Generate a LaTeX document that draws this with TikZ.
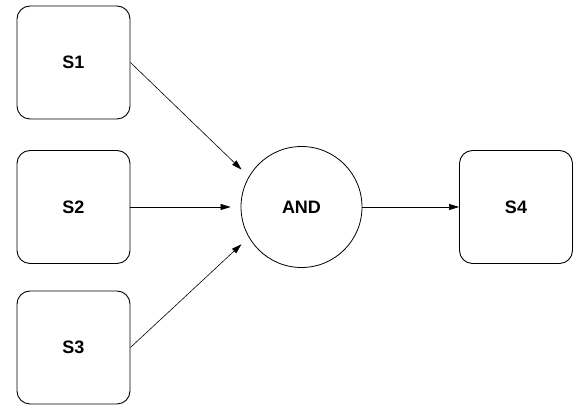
\documentclass[tikz,border=0pt]{standalone}
\usepackage{fontspec}
\setmainfont{Liberation Sans}
\usetikzlibrary{arrows.meta}
\begin{document}
\begin{tikzpicture}[x=1pt,y=-1pt,
  statebox/.style={draw, line width=0.9pt, rounded corners=13pt, minimum width=113pt, minimum height=113pt, inner sep=0pt, font=\fontsize{18}{21}\selectfont\bfseries},
  gate/.style={draw, line width=0.8pt, circle, minimum size=121pt, inner sep=0pt, font=\fontsize{18}{21}\selectfont\bfseries},
  conn/.style={line width=0.6pt, -{Triangle[length=10pt,width=6pt]}}]
\useasboundingbox (0,0) rectangle (582,411);
\node[statebox] (s1) at (73.5,62.5) {S1};
\node[statebox] (s2) at (73.5,207) {S2};
\node[statebox] (s3) at (73.5,347.5) {S3};
\node[gate] (and) at (301.5,207) {AND};
\node[statebox] (s4) at (516,207) {S4};
\draw[conn, shorten >=10pt] (s1.east) -- (and.150);
\draw[conn, shorten >=10pt] (s2.east) -- (and.west);
\draw[conn, shorten >=10pt] (s3.east) -- (and.210);
\draw[conn] (and.east) -- (s4.west);
\end{tikzpicture}
\end{document}
